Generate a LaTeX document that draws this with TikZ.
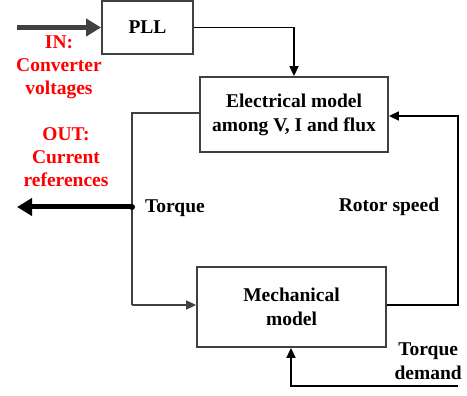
\documentclass[tikz,border=0pt]{standalone}
\usepackage{fontspec}
\setmainfont{Liberation Serif}
\usetikzlibrary{arrows.meta}
\definecolor{boxgray}{HTML}{404040}
\tikzset{
  blockbox/.style={draw=boxgray, line width=1.8pt, fill=white, inner sep=0pt, align=center, font=\fontsize{19.5}{24}\selectfont\bfseries},
  conn/.style={draw=black, line width=1.6pt, -{Triangle[length=10pt,width=9pt]}},
  lbl/.style={font=\fontsize{19.5}{24}\selectfont\bfseries, align=center, inner sep=0pt},
  redlbl/.style={lbl, text=red, font=\fontsize{19.5}{23}\selectfont\bfseries},
}
\begin{document}
\begin{tikzpicture}[x=1pt,y=-1pt]
\useasboundingbox (0,0) rectangle (467,396);
\node[blockbox, minimum width=91pt, minimum height=53pt] (pll) at (147.5,27.5) {PLL};
\node[blockbox, minimum width=188pt, minimum height=75pt] (elec) at (294,114.5) {Electrical model\\among V, I and flux};
\node[blockbox, minimum width=189pt, minimum height=80pt] (mech) at (291.5,307) {Mechanical\\model};
\coordinate (inS) at (17,27.5);
\draw[boxgray, line width=5pt, -{Triangle[length=15pt,width=17pt]}] (inS) -- (pll.west);
\node[redlbl] (inl) at (59,67.5) {IN:\\Converter\\voltages};
\draw[conn] (pll.east) -| (elec.north);
\coordinate (lt) at (132,113);
\coordinate (lb) at (132,305);
\coordinate (tq) at (132,207);
\coordinate (outE) at (17,207);
\draw[boxgray, line width=1.6pt] (elec.west |- lt) -- (lt) -- (lb);
\draw[boxgray, line width=1.6pt, -{Triangle[length=10pt,width=9pt]}] (lb) -- (mech.west |- lb);
\draw[black, line width=5pt, -{Triangle[length=15pt,width=17pt]}] (tq) -- (outE);
\fill[black] (tq) circle (3pt);
\node[redlbl] (outl) at (66,157.5) {OUT:\\Current\\references};
\node[lbl, anchor=west] (tql) at (145,208) {Torque};
\coordinate (rb) at (458,305);
\coordinate (rt) at (458,116);
\draw[conn] (mech.east |- rb) -- (rb) -- (rt) -- (elec.east |- rt);
\node[lbl] (rsl) at (389,207) {Rotor speed};
\coordinate (tdR) at (458,386);
\coordinate (tdL) at (291,386);
\draw[conn] (tdR) -- (tdL) -- (mech.south -| tdL);
\node[lbl, anchor=north east] (tdl) at (462,343) {Torque\\demand};
\end{tikzpicture}
\end{document}
